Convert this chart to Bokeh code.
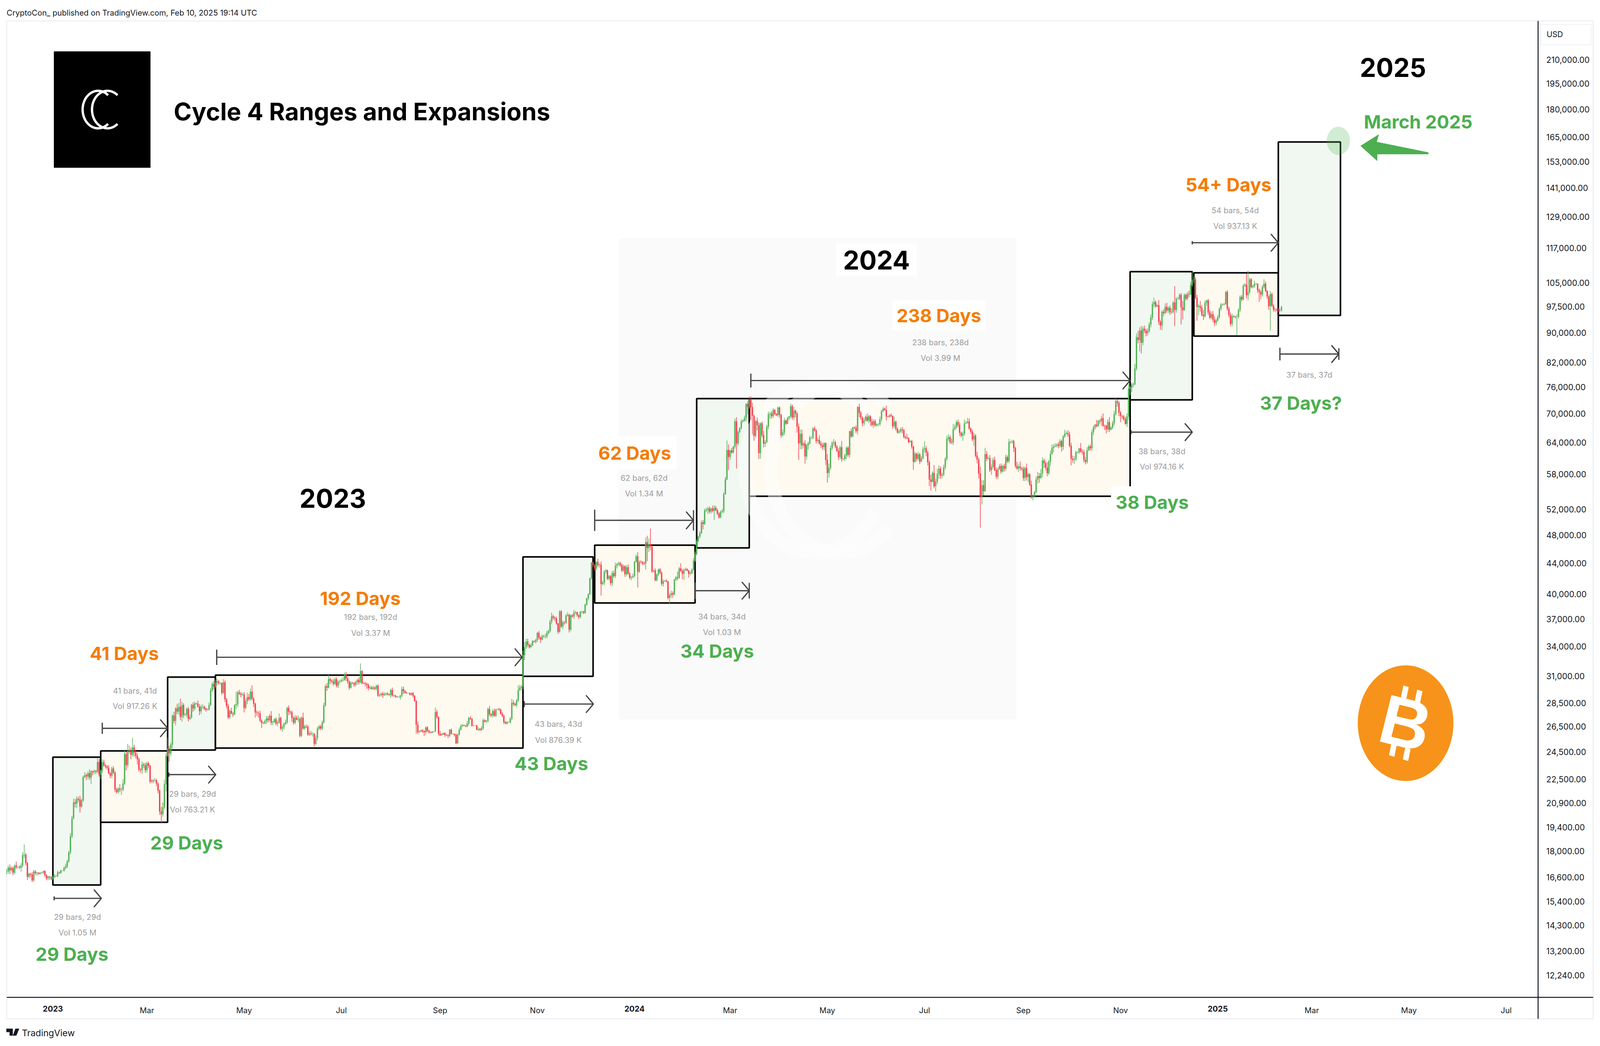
import math
from datetime import date
from bokeh.plotting import figure
from bokeh.embed import file_html
from bokeh.resources import INLINE
from bokeh.models import Label, FixedTicker, NumeralTickFormatter, Range1d

# ---------- chart data: daily BTCUSD ----------
# closes in thousand USD per month; wicks in tenths of a percent beyond the candle body
c2212=[16.89,17.11,16.97,17.09,16.84, 17.22,17.13,17.13,17.10,17.21, 17.78,17.81,17.36,16.63,16.78, 16.74,16.44,16.90,16.82,16.83, 16.78,16.84,16.84,16.92,16.71, 16.55,16.63,16.60,16.54]
u2212=[9,6,10,6,4, 3,12,3,5,8, 10,32,6,3,4, 3,8,5,5,3, 2,2,3,1,3, 3,3,3,3]
d2212=[8,7,12,4,8, 5,6,2,4,12, 6,9,8,10,5, 8,5,4,6,9, 3,2,3,4,6, 6,6,8,5]
c2301=[16.61,16.67,16.67,16.85,16.83, 16.95,16.95,17.09,17.18,17.44, 17.94,18.85,19.93,20.95,20.87, 21.18,21.13,20.67,21.07,22.67, 22.78,22.71,22.92,22.63,23.06, 23.01,23.08,23.03,23.74,22.83, 23.13]
u2301=[6,6,3,6,3, 3,1,4,8,5, 4,10,8,12,10, 8,6,12,6,4, 10,6,6,12,4, 3,5,3,14,9, 3]
d2301=[4,3,3,4,3, 3,2,3,4,6, 4,7,5,3,12, 14,8,18,5,4, 4,12,9,8,20, 10,6,6,4,6, 14]
c2302=[23.73,23.49,23.43,23.33,22.93, 22.76,23.26,22.96,21.80,21.63, 21.86,21.78,21.79,22.20,24.33, 23.52,24.57,24.63,24.28,24.84, 24.44,24.19,23.95,23.19,23.16, 23.55,23.49,23.15]
u2302=[8,8,4,3,8, 3,6,8,6,5, 5,14,7,14,14, 8,22,14,8,30, 8,8,8,5,4, 10,6,8]
d2302=[8,4,7,7,3, 8,8,4,8,5, 4,7,16,5,4, 16,8,8,14,7, 12,8,16,6,8, 12,8,8]
c2303=[23.65,23.47,22.35,22.43,22.41, 22.42,22.20,21.72,20.36,20.19, 20.63,22.16,24.20,24.75,24.38, 25.06,27.42,26.97,28.04,27.77, 28.18,27.31,28.33,27.49,27.49, 28.00,27.14,27.27,28.35,28.03, 28.47]
u2303=[5,5,3,3,3, 8,5,4,4,15, 16,14,8,35,8, 6,4,12,4,14, 12,25,10,6,5, 4,6,8,3,8, 6]
d2303=[8,8,6,5,8, 4,8,8,10,28, 8,6,22,5,25, 8,12,8,14,8, 10,10,15,10,4, 8,8,3,4,10, 6]
c2304=[28.45,28.20,27.79,28.17,28.17, 28.03,27.92,27.95,28.33,29.65, 30.24,29.99,30.39,30.49,30.32, 30.32,29.43,30.40,28.82,28.25, 27.27,27.82,27.59,27.53,28.31, 28.42,29.47,29.34,29.25,29.27]
u2304=[2,10,8,6,8, 4,3,3,8,8, 6,10,8,8,4, 3,3,10,6,5, 6,4,10,5,3, 40,5,8,5,6]
d2304=[3,3,12,8,6, 5,6,2,4,3, 4,8,6,10,4, 5,6,4,8,8, 5,5,2,8,3, 12,10,4,8,3]
c2305=[28.09,28.68,29.03,28.85,29.53, 28.90,28.45,27.69,27.66,27.62, 26.99,26.80,26.78,26.93,27.17, 27.04,27.40,26.83,26.89,27.11, 26.75,26.85,27.22,26.33,26.47, 26.72,26.86,28.08,27.75,27.70, 27.22]
u2305=[8,8,14,10,10, 20,4,3,6,5, 8,4,4,5,8, 8,6,15,4,3, 6,5,14,4,6, 4,8,4,8,3, 6]
d2305=[14,5,10,5,5, 6,10,16,10,14, 4,16,2,3,8, 8,4,8,8,3, 5,8,4,5,10, 8,3,6,10,7, 12]
c2306=[26.82,27.25,27.08,27.12,25.76, 27.24,26.35,26.51,26.48,25.85, 25.94,25.90,25.90,25.12,25.58, 26.33,26.51,26.34,26.85,28.31, 30.03,29.91,30.70,30.55,30.47, 30.27,30.69,30.08,30.45,30.48]
u2306=[5,8,6,12,6, 5,16,5,6,5, 8,7,5,3,8, 6,5,5,6,8, 6,10,13,5,4, 8,6,6,5,6]
d2306=[6,5,2,8,5, 4,4,4,4,4, 5,4,8,8,4, 8,5,5,4,4, 5,10,3,10,4, 6,4,5,7,7]
c2307=[30.59,30.62,31.16,30.77,30.51, 29.90,30.35,30.29,30.17,30.41, 30.62,30.39,31.48,30.33,30.30, 30.25,30.15,29.86,29.92,29.80, 29.91,29.80,30.08,29.18,29.23, 29.35,29.22,29.31,29.36,29.28, 29.23]
u2307=[6,8,6,8,5, 2,4,3,5,4, 4,8,24,3,3, 4,4,5,5,5, 6,3,3,5,4, 3,6,6,3,4, 3]
d2307=[2,4,2,8,8, 7,3,1,6,5, 8,6,2,4,2, 8,12,7,4,3, 4,4,5,4,4, 5,8,3,4,3, 2]
c2308=[29.68,29.18,29.18,29.08,29.04, 29.04,29.18,29.77,29.56,29.43, 29.40,29.40,29.28,29.41,29.17, 28.70,26.66,26.05,26.10,26.19, 26.12,26.04,26.43,26.16,26.05, 26.01,26.09,26.11,27.73,27.30, 25.93]
u2308=[4,8,4,2,2, 2,2,8,8,5, 3,1,2,1,3, 1,2,9,4,3, 4,3,3,4,3, 1,2,0,14,7, 2]
d2308=[8,4,4,4,1, 2,8,6,8,3, 2,1,3,4,6, 3,28,6,2,2, 5,12,8,5,4, 2,2,3,2,5, 6]
c2309=[25.80,25.87,25.97,25.81,25.78, 25.75,26.24,25.91,25.90,25.83, 25.16,25.84,26.23,26.54,26.61, 26.57,26.53,26.76,27.21,27.13, 26.57,26.58,26.58,26.25,26.30, 26.22,26.37,27.02,26.91,26.97]
u2309=[8,4,2,2,3, 4,2,4,1,1, 4,4,7,6,4, 2,2,8,4,6, 3,2,1,3,6, 3,6,6,3,3]
d2309=[2,2,2,6,1, 7,4,2,2,5, 3,1,2,2,3, 1,3,4,7,3, 3,1,1,2,5, 2,3,5,2,4]
c2310=[27.98,27.53,27.43,27.80,27.41, 27.95,27.97,27.94,27.58,27.39, 26.87,26.76,26.86,26.86,27.16, 28.52,28.42,28.33,28.72,29.68, 29.92,29.99,33.09,33.90,34.50, 34.16,33.91,34.09,34.54,34.49, 34.67]
u2310=[4,10,4,6,8, 2,2,4,3,5, 4,3,4,2,5, 13,8,5,6,15, 8,4,14,16,9, 9,4,7,4,2, 4]
d2310=[4,6,6,6,3, 4,1,4,3,4, 6,2,4,2,4, 5,6,3,7,4, 3,8,8,16,5, 8,5,2,2,3, 6]
c2311=[35.44,34.94,34.73,35.08,35.05, 35.05,35.42,35.64,36.70,37.31, 37.13,37.06,36.49,35.55,37.88, 36.16,36.60,36.58,37.39,37.47, 35.81,37.42,37.29,37.72,37.79, 37.45,37.24,37.83,37.85,37.72]
u2311=[3,6,3,6,4, 8,7,5,6,12, 5,5,6,2,4, 4,6,4,5,8, 4,3,4,9,4, 1,2,3,3,3]
d2311=[7,6,11,3,3, 6,5,5,5,8, 6,8,4,6,3, 5,8,6,3,3, 9,5,3,7,5, 5,7,4,4,4]
c2312=[38.69,39.46,39.97,41.98,44.08, 43.77,43.29,44.17,43.72,43.79, 41.24,41.45,42.89,43.02,41.93, 42.26,41.36,42.66,42.27,43.65, 43.87,43.99,43.74,43.02,43.58, 42.52,43.44,42.58,42.07,42.14, 42.27]
u2312=[3,2,2,2,2, 2,2,2,10,4, 10,5,4,5,3, 4,4,7,8,10, 4,5,5,5,6, 3,7,9,5,3, 8]
d2312=[3,3,7,3,4, 6,7,6,5,8, 35,4,7,7,4, 5,7,9,5,6, 8,6,5,5,5, 8,7,3,5,8, 4]
c2401=[44.18,44.95,42.85,44.18,44.16, 43.97,43.93,46.97,46.12,46.66, 46.34,42.89,43.00,41.73,42.51, 43.15,42.74,41.28,41.62,41.66, 41.55,39.51,39.85,40.08,39.93, 41.82,42.12,42.04,43.30,42.94, 42.58]
u2401=[3,6,13,5,5, 3,6,15,20,18, 50,4,3,7,2, 3,5,4,6,3, 5,3,5,8,6, 3,4,18,5,16, 6]
d2401=[4,2,48,4,4, 5,5,18,40,12, 12,4,3,3,4, 6,5,6,9,2, 2,5,20,9,10, 3,5,8,3,3, 17]
c2402=[43.08,43.19,43.00,42.58,42.66, 43.09,44.34,45.29,47.13,47.77, 48.29,49.96,49.70,51.80,51.94, 52.12,51.64,52.13,51.78,52.26, 51.85,51.30,50.73,51.57,51.73, 54.52,57.09,62.50,61.20]
u2402=[4,5,3,2,7, 5,8,7,6,4, 6,6,7,6,6, 6,7,3,9,8, 6,5,5,5,6, 6,8,30,18]
d2402=[19,3,2,12,5, 3,2,4,4,3, 5,2,16,3,4, 12,6,6,5,28, 3,4,4,3,4, 6,2,3,40]
c2403=[62.44,62.03,63.17,68.33,63.80, 66.11,66.93,68.30,68.50,69.02, 72.12,71.48,73.08,71.39,69.50, 65.32,68.39,67.55,61.93,67.91, 65.49,63.78,64.04,67.21,69.88, 69.99,69.46,70.78,69.90,69.65, 71.33]
u2403=[3,8,3,9,13, 5,2,7,3,8, 2,8,10,10,14, 4,4,11,8,3, 6,12,6,6,8, 5,8,6,3,3, 2]
d2403=[9,4,3,6,75, 6,4,5,3,4, 10,23,6,39,56, 15,6,16,18,18, 7,12,10,2,8, 15,8,6,3,3, 5]
c2404=[69.70,65.45,65.98,68.50,67.84, 69.00,69.36,71.62,69.15,70.63, 70.01,67.20,63.82,65.74,63.43, 63.80,61.28,63.47,63.82,64.94, 64.94,66.84,66.41,64.30,64.50, 63.76,63.42,63.11,63.84,60.64]
u2404=[3,4,10,9,3, 4,2,8,5,12, 3,5,10,14,13, 5,10,4,5,7, 4,4,7,5,7, 14,8,8,3,3]
d2404=[10,8,4,8,4, 2,6,5,7,8, 12,18,50,18,12, 8,22,10,14,3, 4,5,3,8,6, 3,8,9,10,16]
c2405=[58.25,59.12,62.89,63.89,64.03, 63.16,62.33,61.19,63.05,60.79, 60.82,61.48,62.94,61.58,66.27, 65.23,67.05,66.94,66.28,71.45, 70.14,69.12,67.93,68.53,69.29, 68.51,69.39,68.30,67.58,68.36, 67.49]
u2405=[18,14,8,6,10, 5,5,8,6,20, 2,5,5,5,2, 8,2,3,8,2, 10,6,4,8,5, 10,5,4,8,6, 6]
d2405=[30,15,6,6,8, 5,3,10,6,8, 4,6,12,6,9, 5,3,4,6,10, 13,7,10,8,4, 4,8,13,6,10, 4]
c2406=[67.71,67.75,68.80,70.57,71.08, 70.76,69.35,69.31,69.64,69.51, 67.32,68.24,66.75,66.01,66.19, 66.64,66.49,65.15,64.96,64.85, 64.10,64.25,63.18,60.28,61.80, 60.86,61.67,60.32,60.89,62.68]
u2406=[3,3,8,4,6, 3,14,2,3,6, 1,16,4,4,6, 6,8,4,3,12, 3,4,4,2,6, 3,8,5,8,8]
d2406=[4,6,6,8,4, 2,12,2,3,4, 8,5,6,3,3, 4,10,5,5,3, 4,2,7,25,3, 8,5,8,2,2]
c2407=[62.85,62.03,60.17,57.04,56.66, 58.23,55.86,56.71,58.05,59.00, 57.73,57.89,59.22,60.80,64.72, 65.04,64.09,63.99,66.71,67.16, 68.17,67.58,65.93,65.37,65.78, 67.91,68.00,68.26,66.82,66.20, 64.62]
u2407=[22,7,6,6,15, 5,25,8,16,10, 7,6,9,6,10, 10,6,11,16,8, 6,8,9,4,7, 12,6,12,10,4, 6]
d2407=[10,11,10,20,27, 3,6,16,8,15, 10,8,4,7,6, 7,6,5,8,4, 6,7,10,6,16, 7,2,2,4,8, 6]
c2408=[65.36,61.42,60.70,58.12,53.99, 56.03,55.03,61.71,60.88,60.95, 58.72,59.35,60.60,58.74,57.56, 58.87,59.48,58.48,59.49,59.01, 61.16,60.38,64.09,64.18,64.25, 62.88,59.50,59.03,59.39,59.12, 58.97]
u2408=[8,5,12,6,22, 16,16,20,10,6, 10,8,8,11,8, 6,7,8,4,7, 8,5,10,2,5, 4,5,13,8,16, 3]
d2408=[20,6,12,15,90, 22,13,2,8,3, 6,14,6,3,7, 8,2,7,3,9, 7,6,6,5,7, 12,7,4,11,8, 6]
c2409=[57.33,59.11,57.48,57.97,56.16, 53.95,54.14,54.84,57.05,57.65, 57.34,58.13,60.50,60.00,59.18, 58.19,60.31,61.76,62.95,63.20, 63.35,63.58,63.34,64.26,63.14, 65.18,65.79,65.89,65.60,63.33]
u2409=[7,5,14,5,4, 12,6,4,9,13, 10,14,10,6,6, 17,5,11,10,8, 8,4,8,6,5, 5,12,6,9,9]
d2409=[9,10,10,15,5, 3,9,4,3,13, 15,3,12,14,8, 10,6,14,2,14, 2,5,8,6,15, 10,4,3,7,5]
c2410=[60.84,60.63,60.75,62.09,62.06, 62.82,62.22,62.13,60.58,60.27, 62.45,63.19,62.85,66.05,67.04, 67.61,67.37,68.43,68.36,69.00, 67.37,67.36,66.68,68.16,66.61, 67.01,67.92,69.91,72.72,72.34, 70.22]
u2410=[10,10,10,5,2, 2,17,7,7,10, 10,5,6,8,6, 3,15,3,5,8, 15,4,4,9,16, 4,8,10,12,7, 6]
d2410=[20,9,12,5,2, 5,4,8,7,8, 6,2,7,8,9, 7,5,2,8,14, 2,13,13,8,8, 2,5,8,5,11, 11]
c2411=[69.48,69.37,68.77,67.81,69.36, 75.64,75.90,76.54,76.68,80.47, 88.70,87.96,90.58,87.25,91.07, 90.56,89.85,90.46,92.31,94.29, 98.33,98.92,97.70,98.01,93.10, 91.99,95.96,95.65,97.46,96.41]
u2411=[5,3,5,7,10, 15,5,6,5,15, 12,20,10,14,8, 10,5,8,7,10, 8,14,5,3,16, 5,5,9,11,13]
d2411=[19,8,4,3,10, 10,20,14,8,3, 6,10,35,33,8, 8,10,8,5,9, 8,10,5,4,10, 13,15,10,4,7]
c2412=[97.19,95.86,96.00,98.77,96.59, 99.92,99.92,101.17,97.32,96.49, 101.12,100.00,101.46,101.37,104.30, 106.03,106.14,100.20,97.46,97.76, 97.22,95.10,94.69,98.68,99.43, 95.79,94.28,95.28,93.71,92.78, 93.43]
u2412=[5,7,12,5,53, 6,6,5,6,20, 5,5,7,10,10, 25,10,7,10,6, 15,8,15,8,2, 5,8,9,10,10, 6]
d2412=[8,8,5,5,49, 9,2,4,52,28, 2,6,5,9,3, 5,10,4,42,25, 12,5,12,5,9, 8,5,5,8,10, 8]
c2501=[94.42,96.89,98.10,98.23,98.36, 102.08,96.92,95.04,92.48,94.70, 94.57,94.49,94.52,96.53,100.50, 99.76,104.08,104.41,101.09,102.02, 106.15,103.65,103.92,104.71,104.73, 102.68,102.09,101.29,103.70,104.73, 102.41]
u2501=[7,5,6,3,3, 3,6,6,8,8, 3,3,8,6,5, 6,5,5,35,69, 6,4,5,10,3, 1,5,6,6,14, 7]
d2501=[3,5,6,3,3, 3,6,7,7,8, 3,5,56,5,6, 7,3,3,10,16, 5,4,4,5,3, 9,30,15,6,5, 4]
c2502=[100.65,97.69,101.40,97.87,96.61, 96.55,96.53,96.46,96.48,97.40]
u2502=[3,5,10,5,5, 6,4,6,4,5]
d2502=[7,12,73,5,6, 6,4,6,4,5]

months=[(c2212,u2212,d2212),(c2301,u2301,d2301),(c2302,u2302,d2302),(c2303,u2303,d2303),(c2304,u2304,d2304),(c2305,u2305,d2305),(c2306,u2306,d2306),(c2307,u2307,d2307),(c2308,u2308,d2308),(c2309,u2309,d2309),(c2310,u2310,d2310),(c2311,u2311,d2311),(c2312,u2312,d2312),(c2401,u2401,d2401),(c2402,u2402,d2402),(c2403,u2403,d2403),(c2404,u2404,d2404),(c2405,u2405,d2405),(c2406,u2406,d2406),(c2407,u2407,d2407),(c2408,u2408,d2408),(c2409,u2409,d2409),(c2410,u2410,d2410),(c2411,u2411,d2411),(c2412,u2412,d2412),(c2501,u2501,d2501),(c2502,u2502,d2502)]
first_day=date(2022,12,3)

# ranges and expansions: start day, end day (days since 1 Jan 2023), top, bottom price, kind
box_start=[0,30,72,102,295,340,404,437,676,716,769]
box_end=[30,72,102,295,339,403,437,676,715,769,808]
box_top=[24100,24570,30900,31090,44870,46530,73330,73330,108740,108340,162600]
box_bottom=[16210,19690,24640,24790,30970,38890,46140,54160,73050,89020,94920]
box_kind=["e","r","e","r","e","r","e","r","e","r","e"]

# date ranges: start day, end day, price level
arrow_start=[0.8,72.8,31,102.8,295.8,340,403,438,676.6,715,770]
arrow_end=[30.4,102.2,72,294.5,339.2,402,437,676,715,769,807]
arrow_price=[15550,22830,26360,32860,28420,50260,40400,77560,66080,118940,84210]
arrow_tee=[8,8,26,37,13,52,40,33,8,6,30]
arrow_end_tee=[0,0,0,0,0,52,40,0,0,0,30]

price_ticks=[210000,195000,180000,165000,153000,141000,129000,117000,105000,97500,90000,82000,76000,70000,64000,58000,52000,48000,44000,40000,37000,34000,31000,28500,26500,24500,22500,20900,19400,18000,16600,15400,14300,13200,12240]
month_days=[59,120,181,243,304,425,486,547,609,670,790,851,912]
month_names=["Mar","May","Jul","Sep","Nov","Mar","May","Jul","Sep","Nov","Mar","May","Jul"]
year_days=[0,365,731]
year_names=["2023","2024","2025"]

# ---------- layout ----------
# The browser viewport is 4096 wide, so reference x positions are compressed by SX to keep it all in view.
W,H=4080,2662
SX=4096/4950
LEFT=0; RIGHT=W/SX; TOP=0; BOTTOM=H
FL,FR,FT,FB=20,4758,53,2553   # chart frame edges in reference pixels
PXD=4.93; X0=163; Y0=152; PXL=825.0
def dx(x): return (x-X0)/PXD
def py(y): return 210000*math.exp(-(y-Y0)/PXL)

GREEN="#4caf50"; RED="#f23645"; ORANGE="#f57c00"; INK="#131722"; GREY="#9a9a9a"; ARROW="#434343"; EDGE="#eef0f4"
FONT="Inter"

p=figure(width=W,height=H,output_backend="svg",toolbar_location=None,
         y_axis_type="log",y_axis_location="right",
         x_range=Range1d(dx(LEFT),dx(RIGHT)),y_range=Range1d(py(BOTTOM),py(TOP)),
         min_border=0)
p.grid.visible=False
p.outline_line_color=None
p.background_fill_color="#ffffff"

p.yaxis.fixed_location=dx(FR)
p.yaxis.bounds=(py(2608),py(FT))
p.yaxis.ticker=FixedTicker(ticks=price_ticks)
p.yaxis.formatter=NumeralTickFormatter(format="0,0.00")
p.yaxis.major_tick_line_color=None; p.yaxis.minor_tick_line_color=None
p.yaxis.axis_line_color=INK; p.yaxis.axis_line_width=2.5
p.yaxis.major_label_text_font=FONT; p.yaxis.major_label_text_font_size="21px"
p.yaxis.major_label_text_color=INK; p.yaxis.major_label_standoff=15

p.xaxis.fixed_location=py(FB)
p.xaxis.bounds=(dx(FL),dx(4928))
p.xaxis.ticker=FixedTicker(ticks=month_days)
p.xaxis.major_label_overrides={d:n for d,n in zip(month_days,month_names)}
p.xaxis.major_tick_line_color=None; p.xaxis.minor_tick_line_color=None
p.xaxis.axis_line_color=INK; p.xaxis.axis_line_width=2.5
p.xaxis.major_label_text_font=FONT; p.xaxis.major_label_text_font_size="20px"
p.xaxis.major_label_text_color=INK; p.xaxis.major_label_standoff=15

# thin pane edges and the currency box
p.segment([dx(FL),dx(FL),dx(FL),dx(4928)],[py(FT),py(FT),py(2608),py(FT)],
          [dx(4928),dx(FL),dx(4928),dx(4928)],[py(FT),py(2608),py(2608),py(2608)],line_color=EDGE,line_width=3)
p.quad(left=[dx(4766)],right=[dx(4922)],top=[py(62)],bottom=[py(114)],fill_color="#ffffff",line_color=EDGE,line_width=2)

# decoration panel behind 2024
p.quad(left=[dx(1913)],right=[dx(3144)],top=[py(610)],bottom=[py(1841)],fill_color="#fafafa",line_color=None)

# boxes
fills={"e":"#f1f8f1","r":"#fefaf0"}
p.quad(left=box_start,right=box_end,top=box_top,bottom=box_bottom,
       fill_color=[fills[k] for k in box_kind],line_color="#000000",line_width=4)

# watermark
def arc(cx,cy,r,a0,a1,n=60):
    pts=[math.radians(a0+(a1-a0)*i/n) for i in range(n+1)]
    return [dx(cx+r*math.cos(a)) for a in pts],[py(cy-r*math.sin(a)) for a in pts]
wx,wy=arc(2520,1200,215,30,330)
p.line(wx,wy,line_color="#ffffff",line_width=34,line_alpha=0.45)
wx,wy=arc(2600,1200,215,45,315)
p.line(wx,wy,line_color="#ffffff",line_width=34,line_alpha=0.45)

# candles
xs=[];opens=[];closes=[];highs=[];lows=[]
prev=None;day=(first_day-date(2023,1,1)).days
for cl,up,dn in months:
    for c,u,d in zip(cl,up,dn):
        c*=1000
        o=prev if prev is not None else c
        xs.append(day);opens.append(o);closes.append(c)
        highs.append(max(o,c)*(1+u/1000));lows.append(min(o,c)*(1-d/1000))
        prev=c;day+=1
cols=[GREEN if c>=o else RED for o,c in zip(opens,closes)]
p.segment(xs,highs,xs,lows,line_color=cols,line_width=1.5)
p.vbar(x=xs,width=0.68,top=[max(a,b) for a,b in zip(opens,closes)],bottom=[min(a,b) for a,b in zip(opens,closes)],fill_color=cols,line_color=cols,line_width=0.5)

# date-range arrows
for a,b,pr,t,et in zip(arrow_start,arrow_end,arrow_price,arrow_tee,arrow_end_tee):
    p.segment([a],[pr],[b],[pr],line_color=ARROW,line_width=3.2)
    f=math.exp((t/2)/PXL)
    p.segment([a],[pr/f],[a],[pr*f],line_color=ARROW,line_width=3.2,line_cap="round")
    if et:
        f=math.exp((et/2)/PXL)
        p.segment([b],[pr/f],[b],[pr*f],line_color=ARROW,line_width=3)
    hf=math.exp(21.5/PXL); hx=22/PXD
    p.line([b-hx,b,b-hx],[pr*hf,pr,pr/hf],line_color=ARROW,line_width=3.2,line_cap="round")

# March 2025 marker
tx,ty=arc(4140,360,36,0,360)
p.patch(tx,ty,fill_color=GREEN,fill_alpha=0.25,line_color=None)
p.patch([dx(v) for v in [4209,4265,4258,4418,4418,4260,4260]],[py(v) for v in [373,344,363,390,394,394,411]],fill_color=GREEN,line_color=GREEN,line_width=1)

# logo square
p.quad(left=[dx(166)],right=[dx(465)],top=[py(131)],bottom=[py(429)],fill_color="#000000",line_color=None)
ax,ay=arc(303,280,48,50,310); p.line(ax,ay,line_color="#ffffff",line_width=6)
ax,ay=arc(332,280,48,50,310); p.line(ax,ay,line_color="#ffffff",line_width=6)

# bitcoin badge
bx,by=arc(4348,1851,148,0,360,n=120)
p.patch(bx,by,fill_color="#f7931a",line_color=None)
def rot(x,y,ang=14):
    a=math.radians(ang)
    return 4348+x*math.cos(a)-y*math.sin(a),1851+x*math.sin(a)+y*math.cos(a)
for x0,x1,y0,y1 in [(-30,-13,-92,-60),(14,31,-92,-60),(-30,-13,60,92),(14,31,60,92)]:
    pts=[rot(x0,y0),rot(x1,y0),rot(x1,y1),rot(x0,y1)]
    p.patch([dx(a) for a,b in pts],[py(b) for a,b in pts],fill_color="#ffffff",line_color=None)

# TradingView mark
p.patch([dx(v) for v in [19,39,39,29,29,19]],[py(v) for v in [2633,2633,2651,2651,2642,2642]],fill_color=INK,line_color=None)
p.patch([dx(v) for v in [47,59,50,39]],[py(v) for v in [2633,2633,2651,2651]],fill_color=INK,line_color=None)

def lab(x,y,text,size,color=INK,bold=False,align="center",bg=None,pad=0,font=FONT,angle=0):
    l=Label(x=(x-LEFT)*SX,y=BOTTOM-y,x_units="screen",y_units="screen",text=text,
            text_font=font,text_font_size=f"{size}px",text_color=color,
            text_align=align,text_baseline="middle",
            text_font_style="bold" if bold else "normal",angle=angle,angle_units="deg")
    if bg:
        l.background_fill_color=bg; l.padding=pad
    p.add_layout(l)

lab(4348,1851,"B",178,"#ffffff",True,font="Liberation Sans",angle=-14)

BIG=47
for x,y,t in [(384,1672,"41 Days"),(1114,1531,"192 Days"),(3800,472,"54+ Days")]:
    lab(x,y,t,BIG,ORANGE,True)
lab(1963,1159,"62 Days",BIG,ORANGE,True,bg="#ffffff",pad=14)
lab(2904,807,"238 Days",BIG,ORANGE,True,bg="#ffffff",pad=10)
for x,y,t in [(222,2442,"29 Days"),(577,2157,"29 Days"),(1705,1954,"43 Days"),(2218,1666,"34 Days"),(4024,1031,"37 Days?")]:
    lab(x,y,t,BIG,GREEN,True)
lab(3564,1285,"38 Days",BIG,GREEN,True,bg="#ffffff",pad=12)
lab(4387,311,"March 2025",BIG,GREEN,True)

SM=20
for x,y,t in [(417,1768,"41 bars, 41d"),(417,1807,"Vol 917.26 K"),(239,2347,"29 bars, 29d"),(239,2387,"Vol 1.05 M"),
              (595,2032,"29 bars, 29d"),(595,2072,"Vol 763.21 K"),(1146,1579,"192 bars, 192d"),(1146,1620,"Vol 3.37 M"),
              (1727,1853,"43 bars, 43d"),(1727,1894,"Vol 876.39 K"),(1992,1223,"62 bars, 62d"),(1992,1263,"Vol 1.34 M"),
              (2233,1578,"34 bars, 34d"),(2233,1618,"Vol 1.03 M"),(2909,876,"238 bars, 238d"),(2909,916,"Vol 3.99 M"),
              (3594,1155,"38 bars, 38d"),(3594,1194,"Vol 974.16 K"),(3821,538,"54 bars, 54d"),(3821,578,"Vol 937.13 K"),
              (4050,959,"37 bars, 37d")]:
    lab(x,y,t,SM,GREY)

lab(1029,1275,"2023",66,"#000000",True)
lab(2711,665,"2024",66,"#000000",True,bg="#ffffff",pad=18)
lab(4309,172,"2025",66,"#000000",True)
lab(537,285,"Cycle 4 Ranges and Expansions",62,"#000000",True,align="left")

lab(20,32,"CryptoCon_ published on TradingView.com, Feb 10, 2025 19:14 UTC",20,INK,align="left")
lab(67,2644,"TradingView",23,INK,align="left")
lab(4784,87,"USD",20,INK,align="left")

for d,n in zip(year_days,year_names):
    l=Label(x=d,y=BOTTOM-2582,x_units="data",y_units="screen",text=n,text_font=FONT,text_font_size="20px",
            text_font_style="bold",text_color=INK,text_align="center",text_baseline="middle")
    p.add_layout(l)

open("out.html","w").write(file_html(p,INLINE))
